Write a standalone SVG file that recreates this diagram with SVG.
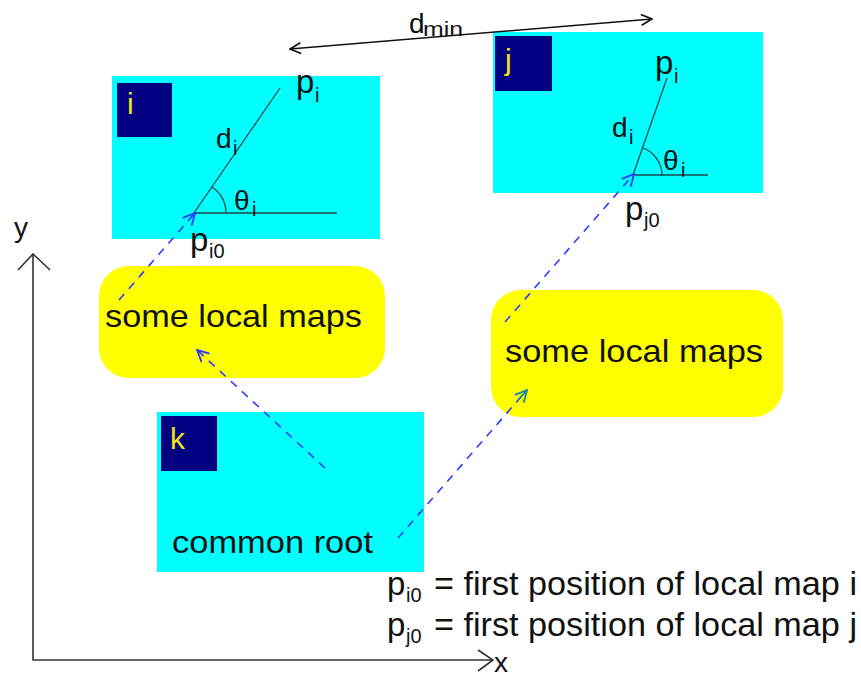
<svg xmlns="http://www.w3.org/2000/svg" width="861" height="682" viewBox="0 0 861 682">
  <style>
    text { font-family: "Liberation Sans", Arial, sans-serif; fill: #111; }
    .map { fill: #00ffff; }
    .tag { fill: #000080; }
    .tagtxt { fill: #f2e21c; font-size: 30px; }
    .blob { fill: #ffff00; }
    .label { font-size: 32px; }
    .sym { font-size: 33px; }
    .sml { font-size: 28px; }
    .sub { font-size: 20px; }
    .geo { stroke: #1c4a4a; stroke-width: 1.3; fill: none; }
    .link { stroke: #2a3cff; stroke-width: 1.6; fill: none; stroke-dasharray: 8 7; }
    .axis { stroke: #333; stroke-width: 1.6; fill: none; }
  </style>
  <defs>
    <marker id="vhead" viewBox="0 0 12 12" refX="11" refY="6" markerWidth="13" markerHeight="13" markerUnits="userSpaceOnUse" orient="auto-start-reverse">
      <path d="M1,1 L11,6 L1,11" fill="none" stroke="context-stroke" stroke-width="1.6"/>
    </marker>
    <marker id="bhead" viewBox="0 0 12 12" refX="11" refY="6" markerWidth="14" markerHeight="14" markerUnits="userSpaceOnUse" orient="auto">
      <path d="M1,1 L11,6 L1,11" fill="none" stroke="#2a3cff" stroke-width="1.6"/>
    </marker>
    <marker id="thead" viewBox="0 0 12 12" refX="11" refY="6" markerWidth="14" markerHeight="14" markerUnits="userSpaceOnUse" orient="auto">
      <path d="M1,1 L11,6 L1,11 M11,6 L0,6" fill="none" stroke="#1a8a9a" stroke-width="1.6"/>
    </marker>
  </defs>

  <!-- local map i -->
  <g id="map-i">
    <rect class="map" x="112" y="76" width="268" height="163"/>
    <rect class="tag" x="117" y="83" width="55" height="54"/>
    <text class="tagtxt" x="127" y="114">i</text>
    <path class="geo" d="M194,213 L337,213 M194,213 L280,88 M226,213 A32,32 0 0 0 212,187"/>
    <text class="sym" x="296" y="93">p<tspan class="sub" x="315" y="102">i</tspan></text>
    <text class="sml" x="216" y="148">d<tspan class="sub" x="233" y="155">i</tspan></text>
    <text class="sml" x="234" y="210">θ<tspan class="sub" x="252" y="216">i</tspan></text>
    <text class="sym" x="190" y="251">p<tspan class="sub" x="209" y="258">i0</tspan></text>
  </g>

  <!-- local map j -->
  <g id="map-j">
    <rect class="map" x="493" y="32" width="270" height="161"/>
    <rect class="tag" x="495" y="36" width="57" height="55"/>
    <text class="tagtxt" x="505" y="70">j</text>
    <path class="geo" d="M633,175 L708,175 M633,175 L667,78 M662,175 A29,29 0 0 0 643,148"/>
    <text class="sym" x="655" y="74">p<tspan class="sub" x="674" y="83">i</tspan></text>
    <text class="sml" x="612" y="137">d<tspan class="sub" x="629" y="144">i</tspan></text>
    <text class="sml" x="663" y="170">θ<tspan class="sub" x="681" y="177">i</tspan></text>
    <text class="sym" x="625" y="220">p<tspan class="sub" x="644" y="227">j0</tspan></text>
  </g>

  <!-- groups of local maps -->
  <g id="maps-left">
    <rect class="blob" x="99" y="266" width="286" height="112" rx="30" ry="30"/>
    <text class="label" x="105" y="327" textLength="257" lengthAdjust="spacingAndGlyphs">some local maps</text>
  </g>
  <g id="maps-right">
    <rect class="blob" x="491" y="290" width="292" height="127" rx="30" ry="30"/>
    <text class="label" x="505" y="362" textLength="258" lengthAdjust="spacingAndGlyphs">some local maps</text>
  </g>

  <!-- common root k -->
  <g id="map-k">
    <rect class="map" x="157" y="412" width="267" height="160"/>
    <rect class="tag" x="161" y="416" width="56" height="55"/>
    <text class="tagtxt" x="170" y="449">k</text>
    <text class="label" x="172" y="553" textLength="201" lengthAdjust="spacingAndGlyphs">common root</text>
  </g>

  <!-- connectors -->
  <g id="connectors">
    <line class="link" x1="325" y1="468" x2="197" y2="350" marker-end="url(#bhead)"/>
    <line class="link" x1="119" y1="300" x2="195" y2="213" marker-end="url(#bhead)"/>
    <line class="link" x1="398" y1="538" x2="527" y2="390" marker-end="url(#thead)"/>
    <line class="link" x1="505" y1="322" x2="634" y2="174" marker-end="url(#bhead)"/>
    <line x1="290" y1="49" x2="652" y2="19" stroke="#111" stroke-width="1.5" marker-start="url(#vhead)" marker-end="url(#vhead)"/>
    <text class="sml" x="409" y="33">d<tspan x="423" y="36" font-size="21" textLength="40" lengthAdjust="spacingAndGlyphs">min</tspan></text>
  </g>

  <!-- axes -->
  <g id="axes">
    <path class="axis" d="M33,254 L33,660 L493,660"/>
    <path class="axis" d="M18,270 L33,254 L50,270 M478,650 L493,660 L478,671"/>
    <text class="sml" x="14" y="237">y</text>
    <text class="sml" x="494" y="672">x</text>
  </g>

  <!-- legend -->
  <g id="legend">
    <text class="sym" x="387" y="595">p<tspan class="sub" x="406" y="602">i0</tspan></text>
    <text class="sym" x="434" y="595" textLength="423" lengthAdjust="spacingAndGlyphs">= first position of local map i</text>
    <text class="sym" x="387" y="636">p<tspan class="sub" x="406" y="643">j0</tspan></text>
    <text class="sym" x="434" y="636" textLength="423" lengthAdjust="spacingAndGlyphs">= first position of local map j</text>
  </g>
</svg>
